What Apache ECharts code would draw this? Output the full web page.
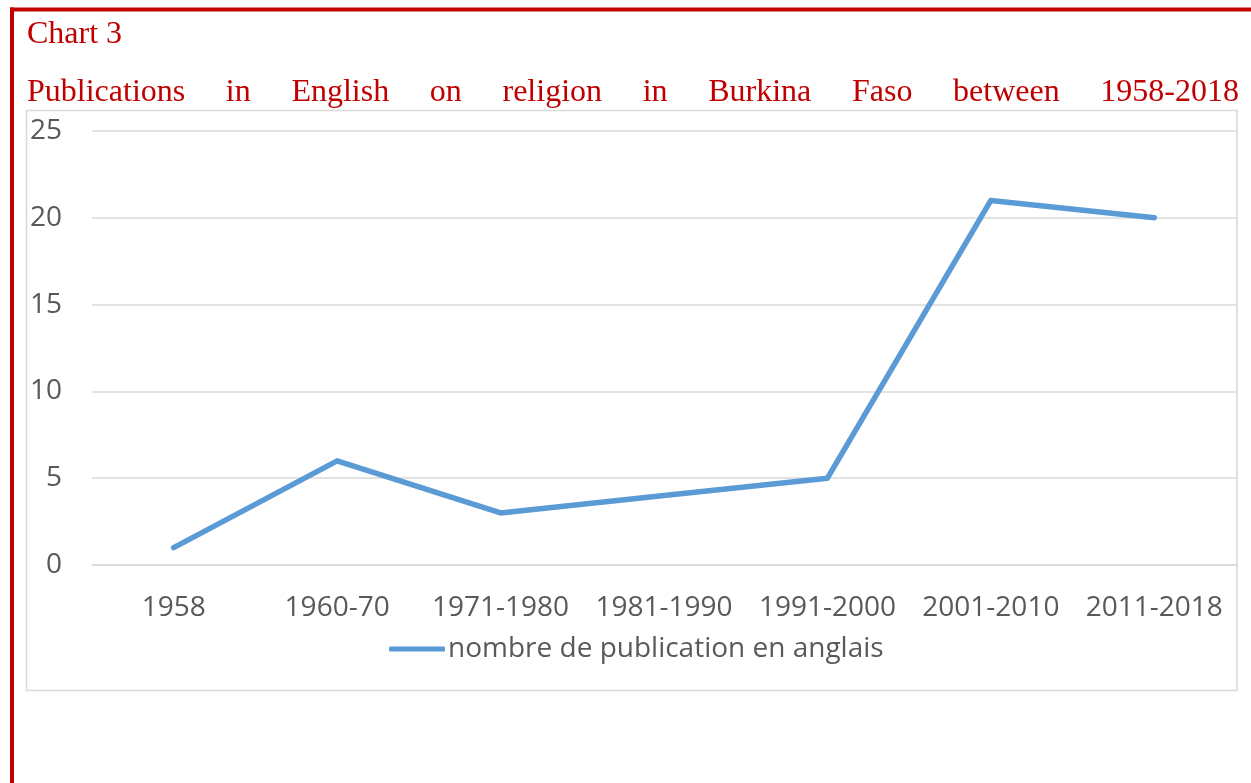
<!DOCTYPE html>
<html>
<head>
<meta charset="utf-8">
<script src="https://cdn.jsdelivr.net/npm/echarts@6/dist/echarts.min.js"></script>
<style>
html,body{margin:0;padding:0;background:#fff;}
#chart{width:1251px;height:783px;}
</style>
</head>
<body>
<div id="chart"></div>
<script>
const categories = ['1958', '1960-70', '1971-1980', '1981-1990', '1991-2000', '2001-2010', '2011-2018'];
const publications = [1, 6, 3, 4, 5, 21, 20];
const seriesName = 'nombre de publication en anglais';
const chartLabel = 'Chart 3';
const subtitleWords = ['Publications', 'in', 'English', 'on', 'religion', 'in', 'Burkina', 'Faso', 'between', '1958-2018'];

const RED = '#C00000';
const TITLE_SIZE = 32;
const TITLE_FONT = TITLE_SIZE + 'px "Liberation Serif"';

// justified word placement for subtitle line
const ctx = document.createElement('canvas').getContext('2d');
ctx.font = TITLE_FONT;
const lineLeft = 27, lineRight = 1239;
const widths = subtitleWords.map(w => ctx.measureText(w).width);
const totalW = widths.reduce((a, b) => a + b, 0);
const gap = (lineRight - lineLeft - totalW) / (subtitleWords.length - 1);
let xPos = lineLeft;
const wordGraphics = subtitleWords.map((w, i) => {
  const g = {
    type: 'text', x: xPos, y: 77,
    style: { text: w, font: TITLE_FONT, fill: RED, align: 'left', verticalAlign: 'top' },
    z: 10
  };
  xPos += widths[i] + gap;
  return g;
});

const chart = echarts.init(document.getElementById('chart'), null, { renderer: 'canvas' });
chart.setOption({
  backgroundColor: '#ffffff',
  animation: false,
  graphic: [
    { type: 'rect', shape: { x: 10, y: 7.5, width: 1251, height: 4 }, style: { fill: RED }, z: 1 },
    { type: 'rect', shape: { x: 10, y: 7.5, width: 4, height: 790 }, style: { fill: RED }, z: 1 },
    { type: 'rect', shape: { x: 26.5, y: 110.5, width: 1210.5, height: 580 }, style: { fill: 'none', stroke: '#D9D9D9', lineWidth: 1.6 }, z: 0 },
    { type: 'text', x: 27, y: 19, style: { text: chartLabel, font: TITLE_FONT, fill: RED, align: 'left', verticalAlign: 'top' }, z: 10 }
  ].concat(wordGraphics),
  legend: {
    data: [seriesName],
    left: 384,
    top: 630,
    icon: 'roundRect',
    itemWidth: 56,
    itemHeight: 5,
    itemGap: 10,
    textStyle: { color: '#595959', fontFamily: 'Open Sans', fontSize: 28, padding: [0, 0, 0, -2] }
  },
  grid: { left: 92, right: 15, top: 131, bottom: 218, containLabel: false },
  xAxis: {
    type: 'category',
    data: categories,
    boundaryGap: true,
    axisLine: { show: true, lineStyle: { color: '#D9D9D9', width: 1.5 } },
    axisTick: { show: false },
    axisLabel: { color: '#595959', fontFamily: 'Open Sans', fontSize: 28, margin: 29, interval: 0 },
    splitLine: { show: false }
  },
  yAxis: {
    type: 'value',
    min: 0, max: 25, interval: 5,
    axisLine: { show: false },
    axisTick: { show: false },
    axisLabel: { color: '#595959', fontFamily: 'Open Sans', fontSize: 28, margin: 30 },
    splitLine: { show: true, lineStyle: { color: '#D9D9D9', width: 1.5 } }
  },
  series: [{
    name: seriesName,
    type: 'line',
    data: publications,
    symbol: 'none',
    lineStyle: { color: '#5B9BD5', width: 5.5, cap: 'round', join: 'round' },
    itemStyle: { color: '#5B9BD5' }
  }]
});
</script>
</body>
</html>
